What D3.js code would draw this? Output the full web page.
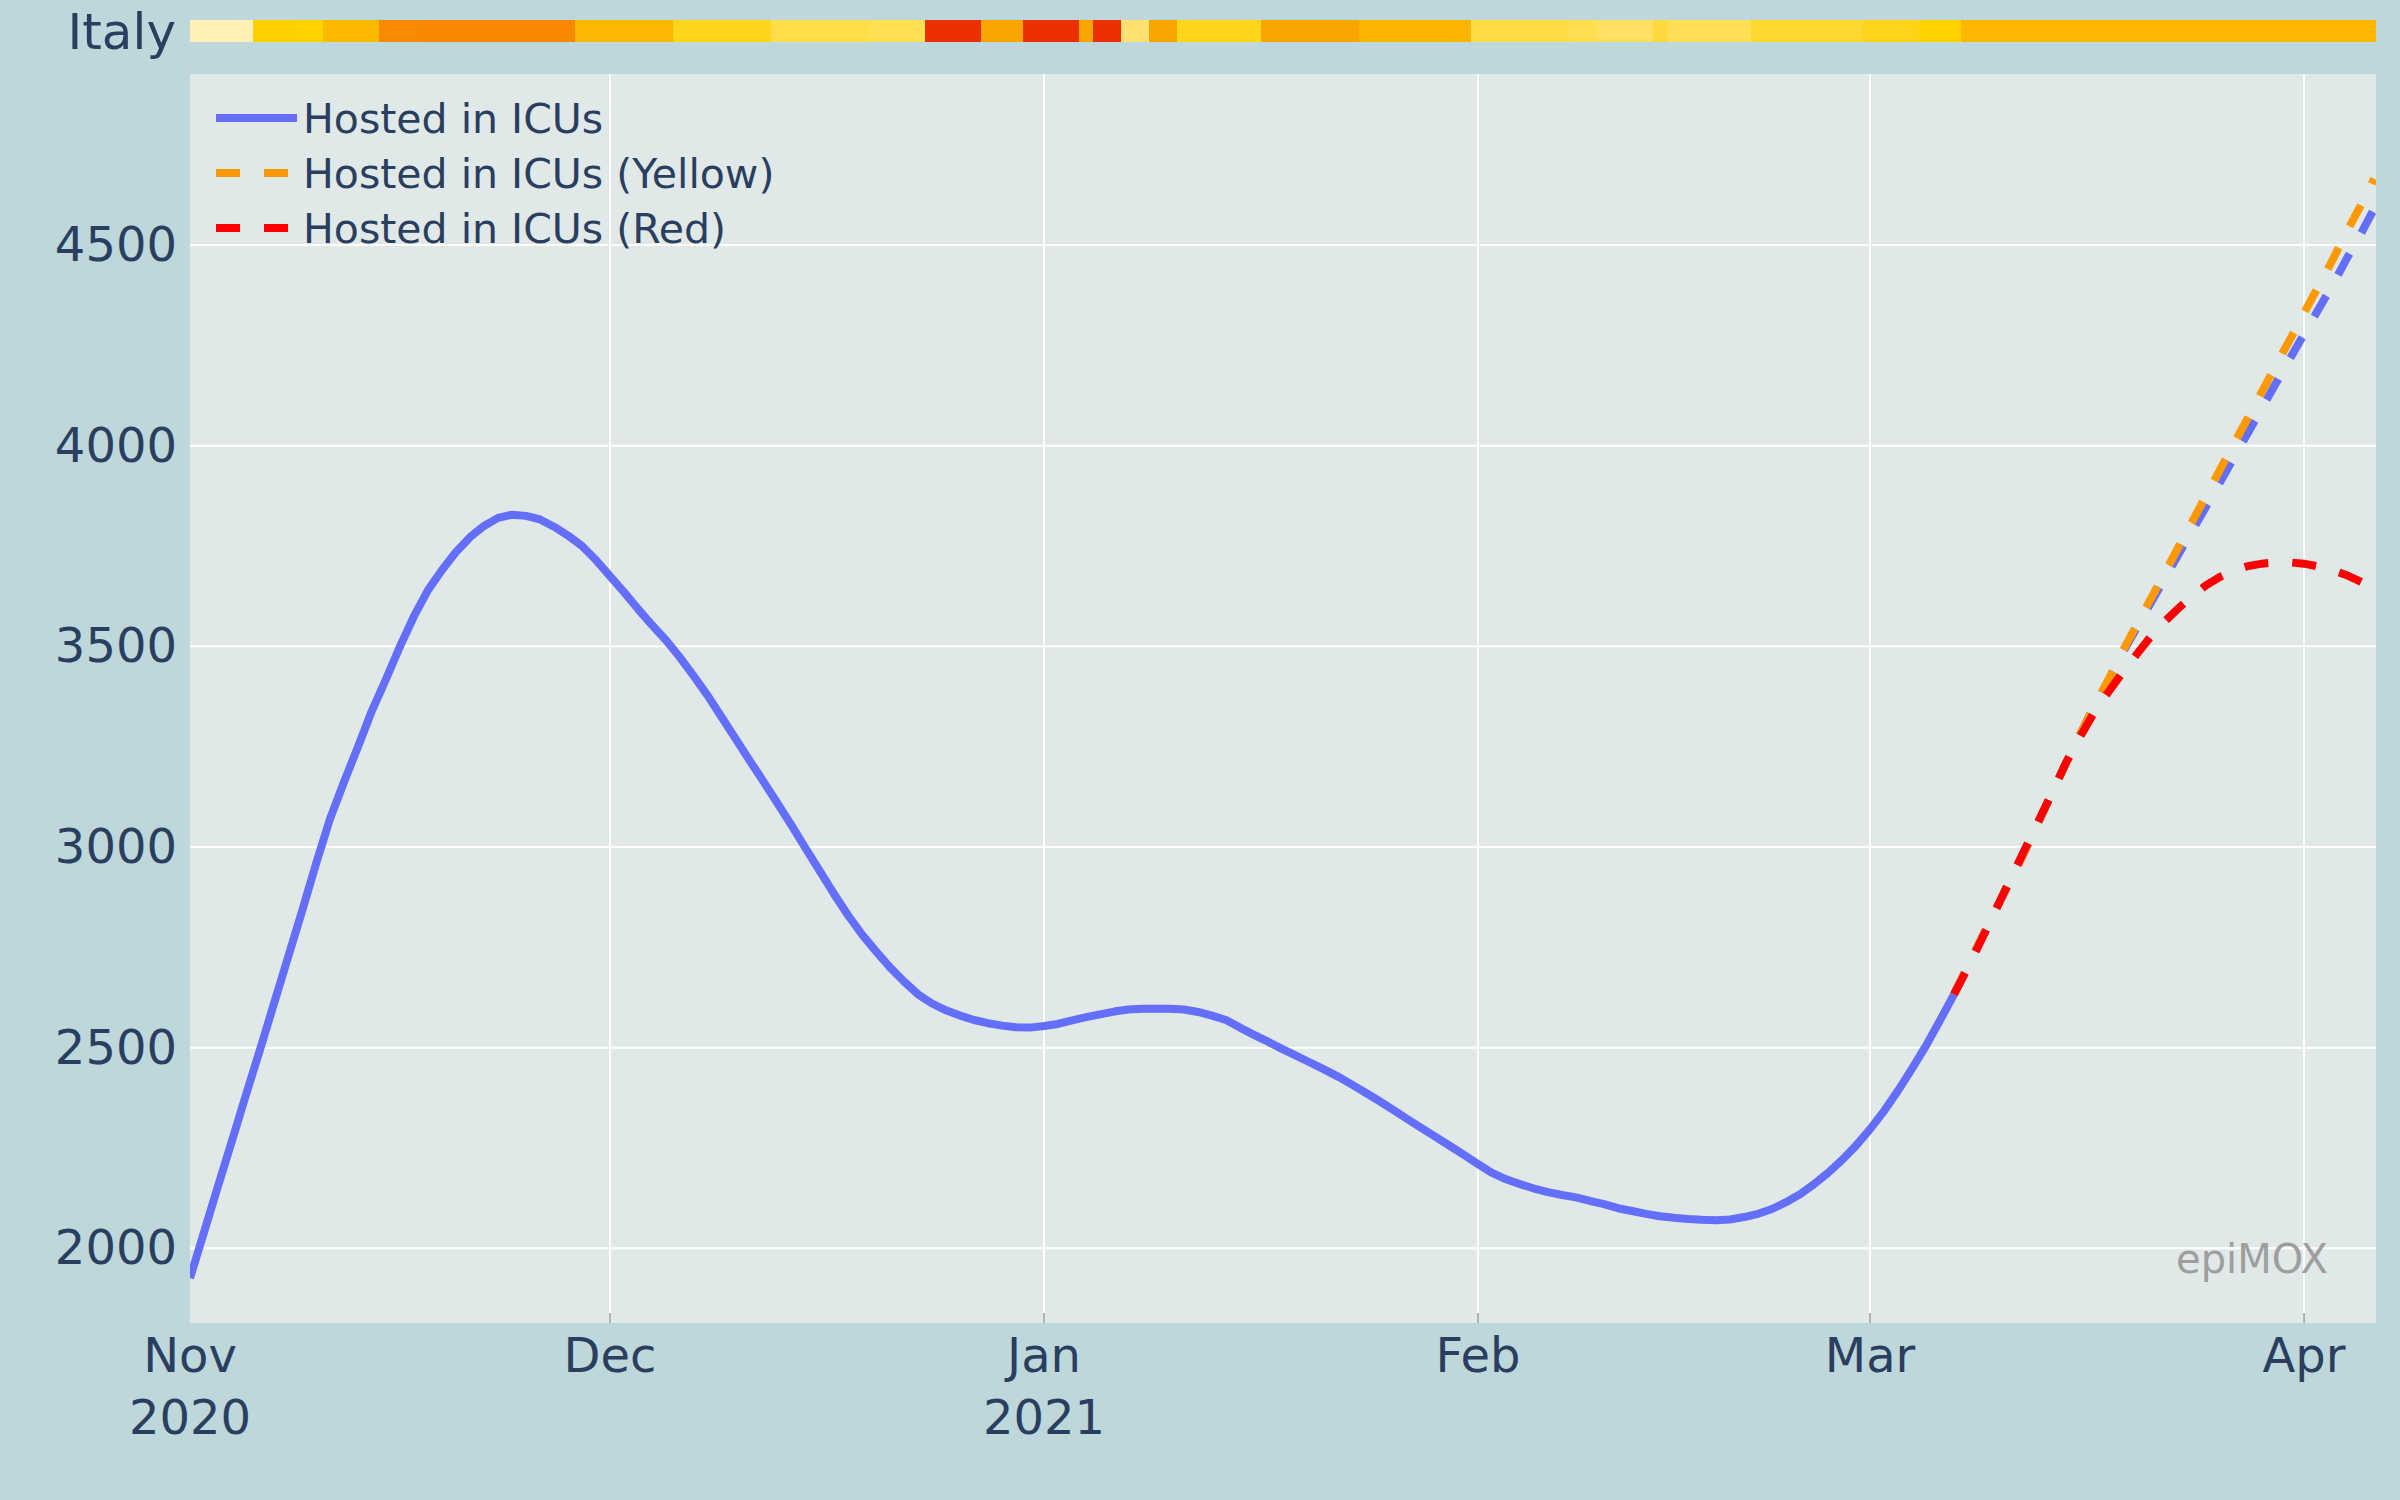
<!DOCTYPE html>
<html>
<head>
<meta charset="utf-8">
<script src="https://cdn.jsdelivr.net/npm/d3@7"></script>
<style>
  html, body { margin: 0; padding: 0; background: #bdd7db; }
  svg { display: block; }
</style>
</head>
<body>
<svg id="chart" width="2400" height="1500"></svg>
<script>
// ---------------- DATA ----------------
const startDate = "2020-11-01";
const region = "Italy";

// Hosted in ICUs (observed), one value per day from startDate
const icuObserved = [
  1926, 2040, 2155, 2268, 2383, 2495, 2610, 2725, 2840, 2958,
  3070, 3162, 3250, 3340, 3418, 3500, 3575, 3640, 3690, 3735,
  3772, 3800, 3820, 3828, 3825, 3816, 3798, 3776, 3750, 3715,
  3675, 3635, 3593, 3553, 3515, 3472, 3425, 3376, 3322, 3268,
  3214, 3161, 3107, 3052, 2995, 2939, 2883, 2830, 2782, 2740,
  2700, 2665, 2633, 2610, 2593, 2580, 2569, 2561, 2555, 2551,
  2550, 2554, 2559, 2568, 2576, 2583, 2590, 2595, 2597, 2597,
  2597, 2595, 2589, 2580, 2569, 2550, 2532, 2515, 2497, 2480,
  2463, 2446, 2428, 2408, 2387, 2366, 2344, 2321, 2299, 2277,
  2255, 2233, 2210, 2188, 2172, 2160, 2149, 2140, 2133, 2127,
  2118, 2110, 2100, 2093, 2086, 2080, 2076, 2073, 2071, 2070,
  2072, 2078, 2086, 2098, 2115, 2135, 2160, 2188, 2220, 2256,
  2297, 2342, 2393, 2448, 2505, 2568, 2633
];

// Projections start on day index 126 (2021-03-07), one value per day
const projectionStartDay = 126;
const icuProjected = [
  2633, 2705, 2775, 2845, 2915, 2985, 3060, 3135, 3210, 3280,
  3350, 3413, 3481, 3543, 3605, 3666, 3727, 3787, 3848, 3909,
  3971, 4032, 4094, 4156, 4217, 4278, 4338, 4398, 4463, 4524, 4590
];
const icuYellow = [
  2633, 2705, 2775, 2845, 2915, 2985, 3060, 3135, 3210, 3280,
  3350, 3415, 3485, 3550, 3615, 3680, 3745, 3810, 3875, 3940,
  4005, 4070, 4135, 4200, 4265, 4330, 4395, 4460, 4530, 4595, 4665
];
const icuRed = [
  2633, 2700, 2772, 2845, 2918, 2990, 3062, 3135, 3210, 3275,
  3335, 3385, 3433, 3478, 3522, 3560, 3594, 3625, 3652, 3673,
  3689, 3700, 3706, 3709, 3709, 3706, 3699, 3690, 3678, 3662, 3645
];

// Risk colour strip: runs of days (start day index) with their colour
const riskRunStart = [0, 5, 8, 10, 14, 17, 28, 35, 42, 49, 53, 57, 60, 64, 65, 67, 69, 71, 77, 84, 92, 99, 101, 105, 106, 112, 120, 124, 127];
const riskRunColor = ["#fff1b5", "#ffcf00", "#ffd200", "#fcb900", "#f68b00", "#f78800", "#fbb802", "#ffd51c", "#ffde4a", "#ffe050",
  "#eb3000", "#f9a500", "#eb3000", "#f9a500", "#eb3000", "#ffe070", "#f9a500", "#ffd51c", "#f9a500", "#fdb500",
  "#ffdc45", "#ffde50", "#ffe060", "#ffd840", "#ffdf55", "#ffd830", "#ffd31a", "#ffd200", "#fdb700"];
const riskLastDay = 156;

const xTickMonths = ["Nov", "Dec", "Jan", "Feb", "Mar", "Apr"];
const xTickYears = ["2020", "", "2021", "", "", ""];
const xTickDates = ["2020-11-01", "2020-12-01", "2021-01-01", "2021-02-01", "2021-03-01", "2021-04-01"];
const yTicks = [2000, 2500, 3000, 3500, 4000, 4500];

const seriesNames = ["Hosted in ICUs", "Hosted in ICUs (Yellow)", "Hosted in ICUs (Red)"];
const watermark = "epiMOX";

// ---------------- LAYOUT ----------------
const W = 2400, H = 1500;
const plot = { left: 190, right: 2376, top: 74, bottom: 1323 };
const strip = { top: 20, bottom: 42 };
const FONT = "'DejaVu Sans', Verdana, sans-serif";
const TEXT = "#2a3f5f";
const COL_BLUE = "#636efa", COL_ORANGE = "#ff9900", COL_RED = "#ff0000";

const parse = d3.utcParse("%Y-%m-%d");
const t0 = parse(startDate);
const dayDate = i => new Date(t0.getTime() + i * 86400000);

const x = d3.scaleUtc()
  .domain([t0, dayDate(156.14)])
  .range([plot.left, plot.right]);
const y = d3.scaleLinear().domain([1814, 4926]).range([plot.bottom, plot.top]);

const svg = d3.select("#chart");
svg.append("rect").attr("width", W).attr("height", H).attr("fill", "#bdd7db");

const defs = svg.append("defs");
defs.append("clipPath").attr("id", "plotclip").append("rect")
  .attr("x", plot.left).attr("y", plot.top)
  .attr("width", plot.right - plot.left).attr("height", plot.bottom - plot.top);
defs.append("clipPath").attr("id", "stripclip").append("rect")
  .attr("x", plot.left).attr("y", strip.top)
  .attr("width", plot.right - plot.left).attr("height", strip.bottom - strip.top);

// plot background
svg.append("rect")
  .attr("x", plot.left).attr("y", plot.top)
  .attr("width", plot.right - plot.left).attr("height", plot.bottom - plot.top)
  .attr("fill", "#e0e9e8");

// ---- risk strip ----
const runs = riskRunStart.map((s, i) => ({
  s, e: (i + 1 < riskRunStart.length ? riskRunStart[i + 1] - 1 : riskLastDay), c: riskRunColor[i]
}));
svg.append("g").attr("clip-path", "url(#stripclip)")
  .selectAll("rect").data(runs).join("rect")
  .attr("x", d => x(dayDate(d.s - 0.5)))
  .attr("width", d => x(dayDate(d.e + 0.5)) - x(dayDate(d.s - 0.5)) + 0.5)
  .attr("y", strip.top).attr("height", strip.bottom - strip.top)
  .attr("fill", d => d.c);

svg.append("text")
  .attr("x", 176).attr("y", 31).attr("dy", "0.36em")
  .attr("text-anchor", "end")
  .attr("font-family", FONT).attr("font-size", 50).attr("fill", TEXT)
  .text(region);

// ---- grid ----
const grid = svg.append("g");
grid.selectAll("line.h").data(yTicks).join("line")
  .attr("x1", plot.left).attr("x2", plot.right)
  .attr("y1", d => y(d)).attr("y2", d => y(d))
  .attr("stroke", "#ffffff").attr("stroke-width", 2);
grid.selectAll("line.v").data(xTickDates.slice(1)).join("line")
  .attr("x1", d => x(parse(d))).attr("x2", d => x(parse(d)))
  .attr("y1", plot.top).attr("y2", plot.bottom)
  .attr("stroke", "#ffffff").attr("stroke-width", 2);

// x tick marks (inside)
svg.append("g").selectAll("line").data(xTickDates.slice(1)).join("line")
  .attr("x1", d => x(parse(d))).attr("x2", d => x(parse(d)))
  .attr("y1", plot.bottom - 10).attr("y2", plot.bottom)
  .attr("stroke", "#666").attr("stroke-width", 1);

// ---- axes labels ----
const yAxis = d3.axisLeft(y).tickValues(yTicks).tickFormat(d3.format("d")).tickSize(0).tickPadding(13);
const gy = svg.append("g").attr("transform", `translate(${plot.left},0)`).call(yAxis);
gy.select(".domain").remove();
gy.selectAll("text").attr("font-family", FONT).attr("font-size", 48).attr("fill", TEXT);

const xl = svg.append("g");
xTickDates.forEach((d, i) => {
  const t = xl.append("text")
    .attr("x", x(parse(d))).attr("y", 1372)
    .attr("text-anchor", "middle")
    .attr("font-family", FONT).attr("font-size", 48).attr("fill", TEXT);
  t.append("tspan").attr("x", x(parse(d))).text(xTickMonths[i]);
  if (xTickYears[i]) t.append("tspan").attr("x", x(parse(d))).attr("dy", 62).text(xTickYears[i]);
});

// ---- lines ----
const lineGen = d3.line().x(d => x(d.date)).y(d => y(d.v));
const toPts = (arr, off) => arr.map((v, i) => ({ date: dayDate(off + i), v }));

const lines = svg.append("g").attr("clip-path", "url(#plotclip)");
lines.append("path").datum(toPts(icuObserved, 0))
  .attr("d", lineGen).attr("fill", "none").attr("stroke", COL_BLUE)
  .attr("stroke-width", 8).attr("stroke-linejoin", "round");
lines.append("path").datum(toPts(icuProjected, projectionStartDay))
  .attr("d", lineGen).attr("fill", "none").attr("stroke", COL_BLUE)
  .attr("stroke-width", 8).attr("stroke-dasharray", "24,24");
lines.append("path").datum(toPts(icuYellow, projectionStartDay))
  .attr("d", lineGen).attr("fill", "none").attr("stroke", COL_ORANGE)
  .attr("stroke-width", 8).attr("stroke-dasharray", "24,24");
lines.append("path").datum(toPts(icuRed, projectionStartDay))
  .attr("d", lineGen).attr("fill", "none").attr("stroke", COL_RED)
  .attr("stroke-width", 8).attr("stroke-dasharray", "24,24");

// ---- legend ----
const legendColors = [COL_BLUE, COL_ORANGE, COL_RED];
const legendDash = [null, "24,24", "24,24"];
const lg = svg.append("g");
seriesNames.forEach((name, i) => {
  const cy = 118 + i * 55;
  lg.append("line").attr("x1", 216).attr("x2", 297).attr("y1", cy).attr("y2", cy)
    .attr("stroke", legendColors[i]).attr("stroke-width", 8)
    .attr("stroke-dasharray", legendDash[i]);
  lg.append("text").attr("x", 303).attr("y", cy).attr("dy", "0.36em")
    .attr("font-family", FONT).attr("font-size", 41).attr("fill", TEXT).text(name);
});

// ---- watermark ----
svg.append("text").attr("x", 2328).attr("y", 1273).attr("text-anchor", "end")
  .attr("font-family", FONT).attr("font-size", 40).attr("fill", "#9e9e9e").text(watermark);
</script>
</body>
</html>
